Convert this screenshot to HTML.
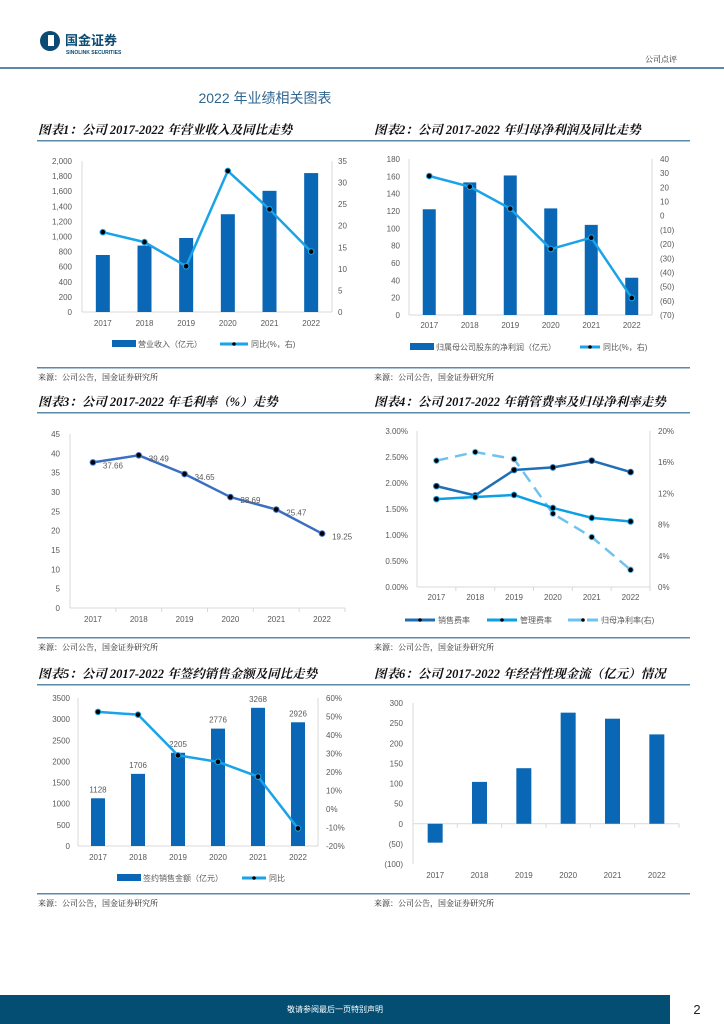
<!DOCTYPE html>
<html><head><meta charset="utf-8"><style>
html,body{margin:0;padding:0;background:#fff;width:724px;height:1024px;overflow:hidden}
svg text{font-family:"Liberation Sans","Noto Sans CJK SC",sans-serif}
.ttl{font-family:"Liberation Serif","Noto Serif CJK SC",serif;font-style:italic;font-weight:bold;font-size:12.5px;fill:#111}
.src{font-family:"Noto Serif CJK SC",serif;font-size:8px;fill:#222}
.tk{font-size:8px;fill:#595959}
</style></head><body>
<svg id="page" width="724" height="1024" viewBox="0 0 724 1024" xmlns="http://www.w3.org/2000/svg">
<g>
<circle cx="50" cy="41" r="10" fill="#0a4a73"/>
<rect x="48" y="35" width="6" height="11" fill="#fff"/>
<text x="65" y="45" font-size="13" font-weight="bold" fill="#0a4a73" font-family="Noto Sans CJK SC,sans-serif">国金证券</text>
<text x="66" y="54" font-size="5" font-weight="bold" fill="#0a4a73">SINOLINK SECURITIES</text>
<text x="645" y="62" class="src" font-size="9">公司点评</text>
<rect x="0" y="67" width="724" height="2" fill="#5a8aa6"/>
</g>
<text x="265" y="103" text-anchor="middle" font-size="14" fill="#2f6690">2022 年业绩相关图表</text>
<text x="38" y="134" class="ttl">图表1：公司 2017-2022 年营业收入及同比走势</text>
<text x="374" y="134" class="ttl">图表2：公司 2017-2022 年归母净利润及同比走势</text>
<rect x="37" y="140" width="653" height="1.5" fill="#5a8aa6"/>
<rect x="37" y="367" width="653" height="1.5" fill="#5a8aa6"/>
<text x="38" y="380" class="src">来源：公司公告，国金证券研究所</text>
<text x="374" y="380" class="src">来源：公司公告，国金证券研究所</text>
<text x="38" y="406" class="ttl">图表3：公司 2017-2022 年毛利率（%）走势</text>
<text x="374" y="406" class="ttl">图表4：公司 2017-2022 年销管费率及归母净利率走势</text>
<rect x="37" y="412" width="653" height="1.5" fill="#5a8aa6"/>
<rect x="37" y="637" width="653" height="1.5" fill="#5a8aa6"/>
<text x="38" y="650" class="src">来源：公司公告，国金证券研究所</text>
<text x="374" y="650" class="src">来源：公司公告，国金证券研究所</text>
<text x="38" y="678" class="ttl">图表5：公司 2017-2022 年签约销售金额及同比走势</text>
<text x="374" y="678" class="ttl">图表6：公司 2017-2022 年经营性现金流（亿元）情况</text>
<rect x="37" y="684" width="653" height="1.5" fill="#5a8aa6"/>
<rect x="37" y="893" width="653" height="1.5" fill="#5a8aa6"/>
<text x="38" y="906" class="src">来源：公司公告，国金证券研究所</text>
<text x="374" y="906" class="src">来源：公司公告，国金证券研究所</text>
<g>
<rect x="0" y="995" width="670" height="29" fill="#034e72"/>
<text x="335" y="1012" text-anchor="middle" font-size="8" fill="#fff" font-family="Noto Serif CJK SC,serif">敬请参阅最后一页特别声明</text>
<text x="697" y="1014" text-anchor="middle" font-size="13" fill="#222">2</text>
</g>
<g id="charts"></g>
</svg>
<script>
const years = ["2017","2018","2019","2020","2021","2022"];
const revenue = [755, 880, 980, 1295, 1605, 1840];
const revenueYoy = [18.5, 16.2, 10.6, 32.7, 23.8, 14.0];
const netProfit = [122, 153, 161, 123, 104, 43];
const netProfitYoy = [28, 20.5, 5, -23.5, -15.5, -58];
const grossMargin = [37.66, 39.49, 34.65, 28.69, 25.47, 19.25];
const salesRate = [1.94, 1.76, 2.25, 2.30, 2.43, 2.21];
const mgmtRate = [1.69, 1.73, 1.77, 1.52, 1.33, 1.26];
const netMargin = [16.2, 17.3, 16.4, 9.4, 6.4, 2.2];
const contractSales = [1128, 1706, 2205, 2776, 3268, 2926];
const contractYoy = [52.5, 51, 29, 25.5, 17.5, -10.5];
const cashFlow = [-47, 104, 138, 276, 261, 222];

const NS = "http://www.w3.org/2000/svg";
const root = document.getElementById("charts");
function mk(parent, tag, attrs, txt){
  const e = document.createElementNS(NS, tag);
  for (const k in attrs) e.setAttribute(k, attrs[k]);
  if (txt !== undefined) e.textContent = txt;
  parent.appendChild(e);
  return e;
}
function scale(min, max, top, bottom){ return v => bottom - (v - min) / (max - min) * (bottom - top); }
function xs(left, right){ const s = (right - left) / 6; return i => left + s / 2 + i * s; }
function fmtComma(v){ return v.toLocaleString("en-US"); }
function paren(v){ return v < 0 ? "(" + (-v) + ")" : String(v); }

function axisLeft(g, y, min, max, step, x, fmt, redNeg){
  for (let v = min; v <= max + 1e-9; v += step){
    const t = mk(g, "text", {x: x, y: y(v) + 3, "text-anchor": "end", class: "tk"}, fmt(v));
    if (redNeg && v < 0) t.setAttribute("fill", "#ff0000");
    
    
  }
}
function axisRight(g, y, min, max, step, x, fmt, redNeg){
  for (let v = min; v <= max + 1e-9; v += step){
    const t = mk(g, "text", {x: x, y: y(v) + 3, "text-anchor": "start", class: "tk"}, fmt(v));
    if (redNeg && v < 0) t.setAttribute("fill", "#ff0000");
    
    
  }
}
function frame(g, left, right, top, bottom, zeroY, rightAxis, ticks){
  mk(g, "line", {x1: left, x2: left, y1: top, y2: bottom, stroke: "#d9d9d9"});
  mk(g, "line", {x1: left, x2: right, y1: zeroY, y2: zeroY, stroke: "#d9d9d9"});
  if (rightAxis) mk(g, "line", {x1: right, x2: right, y1: top, y2: bottom, stroke: "#d9d9d9"});
  if (ticks){ const s = (right - left) / 6; for (let i = 1; i <= 6; i++) mk(g, "line", {x1: left + i*s, x2: left + i*s, y1: zeroY, y2: zeroY + 4, stroke: "#d9d9d9"}); }
}
function xLabels(g, x, y){
  years.forEach((yr, i) => {
    const t = mk(g, "text", {x: x(i), y: y, "text-anchor": "middle", class: "tk"}, yr);
    
    
  });
}
function bars(g, vals, x, y, w, color, name){
  vals.forEach((v, i) => {
    const y0 = y(0), yv = y(v);
    const r = mk(g, "rect", {x: x(i) - w/2, y: Math.min(y0, yv), width: w, height: Math.abs(y0 - yv), fill: color});
    
    
  });
}
function line(g, vals, x, y, color, width, name, dash){
  const pts = vals.map((v, i) => x(i) + "," + y(v)).join(" ");
  const p = mk(g, "polyline", {points: pts, fill: "none", stroke: color, "stroke-width": width, "stroke-linejoin": "round"});
  if (dash) p.setAttribute("stroke-dasharray", dash);
  
  
  vals.forEach((v, i) => {
    const c = mk(g, "circle", {cx: x(i), cy: y(v), r: 2.8, fill: "#000", stroke: color, "stroke-width": 1});
    
    
  });
}
function legendBar(g, x, y, label){
  mk(g, "rect", {x: x, y: y - 4, width: 24, height: 7, fill: "#0a67b5"});
  const t = mk(g, "text", {x: x + 26, y: y + 3, class: "tk"}, label);
  
  
}
function legendLine(g, x, y, w, color, label, dash){
  const l = mk(g, "line", {x1: x, x2: x + w, y1: y, y2: y, stroke: color, "stroke-width": 3});
  if (dash) l.setAttribute("stroke-dasharray", dash);
  mk(g, "circle", {cx: x + w/2, cy: y, r: 1.8, fill: "#000"});
  const t = mk(g, "text", {x: x + w + 3, y: y + 3, class: "tk"}, label);
  
  
}
function group(name){
  const g = mk(root, "g", {});
  
  
  return g;
}

// Chart 1
(function(){
  const g = group("chart1-revenue");
  const L = 82, R = 332, T = 161, B = 312;
  const x = xs(L, R), y = scale(0, 2000, T, B), y2 = scale(0, 35, T, B);
  frame(g, L, R, T, B, B, true);
  axisLeft(g, y, 0, 2000, 200, 72, fmtComma);
  axisRight(g, y2, 0, 35, 5, 338, String);
  xLabels(g, x, 326);
  bars(g, revenue, x, y, 14, "#0a67b5", "revenue-bar");
  line(g, revenueYoy, x, y2, "#1aa3e8", 2.5, "revenue-yoy");
  legendBar(g, 112, 344, "营业收入（亿元）");
  legendLine(g, 220, 344, 28, "#1aa3e8", "同比(%，右)");
})();
// Chart 2
(function(){
  const g = group("chart2-net-profit");
  const L = 409, R = 652, T = 159, B = 315;
  const x = xs(L, R), y = scale(0, 180, T, B), y2 = scale(-70, 40, T, B);
  frame(g, L, R, T, B, B, true);
  axisLeft(g, y, 0, 180, 20, 400, String);
  axisRight(g, y2, -70, 40, 10, 660, paren, true);
  xLabels(g, x, 328);
  bars(g, netProfit, x, y, 13, "#0a67b5", "net-profit-bar");
  line(g, netProfitYoy, x, y2, "#1aa3e8", 2.5, "net-profit-yoy");
  legendBar(g, 410, 347, "归属母公司股东的净利润（亿元）");
  legendLine(g, 580, 347, 20, "#1aa3e8", "同比(%，右)");
})();
// Chart 3
(function(){
  const g = group("chart3-gross-margin");
  const L = 70, R = 345, T = 434, B = 608;
  const x = xs(L, R), y = scale(0, 45, T, B);
  frame(g, L, R, T, B, B, false, true);
  axisLeft(g, y, 0, 45, 5, 60, String);
  xLabels(g, x, 622);
  line(g, grossMargin, x, y, "#3a6fc4", 2.5, "gross-margin");
  grossMargin.forEach((v, i) => {
    const t = mk(g, "text", {x: x(i) + 10, y: y(v) + 6, class: "tk"}, v.toFixed(2));
    
    
  });
})();
// Chart 4
(function(){
  const g = group("chart4-expense-rates");
  const L = 417, R = 650, T = 431, B = 587;
  const x = xs(L, R), y = scale(0, 3, T, B), y2 = scale(0, 20, T, B);
  frame(g, L, R, T, B, B, true, true);
  axisLeft(g, y, 0, 3, 0.5, 408, v => v.toFixed(2) + "%");
  axisRight(g, y2, 0, 20, 4, 658, v => v + "%");
  xLabels(g, x, 600);
  line(g, netMargin, x, y2, "#6ec3ee", 2.5, "net-margin", "12,7");
  line(g, salesRate, x, y, "#1f6fb5", 2.5, "sales-rate");
  line(g, mgmtRate, x, y, "#0aa0e6", 2.5, "mgmt-rate");
  legendLine(g, 405, 620, 30, "#1f6fb5", "销售费率");
  legendLine(g, 487, 620, 30, "#0aa0e6", "管理费率");
  legendLine(g, 568, 620, 30, "#6ec3ee", "归母净利率(右)", "14,5");
})();
// Chart 5
(function(){
  const g = group("chart5-contract-sales");
  const L = 78, R = 318, T = 698, B = 846;
  const x = xs(L, R), y = scale(0, 3500, T, B), y2 = scale(-20, 60, T, B);
  frame(g, L, R, T, B, B, true);
  axisLeft(g, y, 0, 3500, 500, 70, String);
  axisRight(g, y2, -20, 60, 10, 326, v => v + "%");
  xLabels(g, x, 860);
  bars(g, contractSales, x, y, 14, "#0a67b5", "contract-sales-bar");
  contractSales.forEach((v, i) => {
    const t = mk(g, "text", {x: x(i), y: y(v) - 6, "text-anchor": "middle", class: "tk"}, String(v));
    
    
  });
  line(g, contractYoy, x, y2, "#1aa3e8", 2.5, "contract-yoy");
  legendBar(g, 117, 878, "签约销售金额（亿元）");
  legendLine(g, 242, 878, 24, "#1aa3e8", "同比");
})();
// Chart 6
(function(){
  const g = group("chart6-cash-flow");
  const L = 413, R = 679, T = 703, B = 864;
  const x = xs(L, R), y = scale(-100, 300, T, B);
  frame(g, L, R, T, B, y(0), false, true);
  axisLeft(g, y, -100, 300, 50, 403, paren, true);
  xLabels(g, x, 878);
  bars(g, cashFlow, x, y, 15, "#0a67b5", "cash-flow-bar");
})();
</script>
</body></html>
